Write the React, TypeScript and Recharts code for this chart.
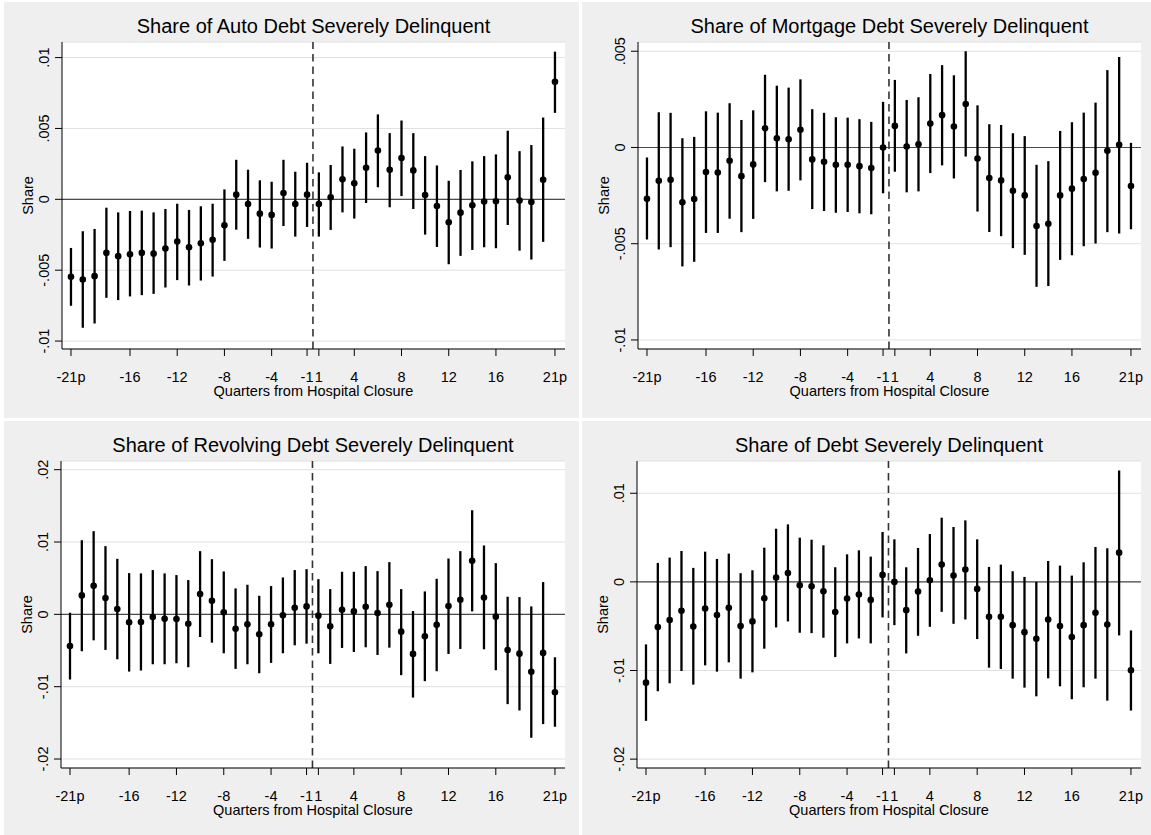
import React from 'react';
import {
  ComposedChart,
  Scatter,
  ErrorBar,
  XAxis,
  YAxis,
  CartesianGrid,
  ReferenceLine,
} from 'recharts';

// quarters relative to closure (no quarter 0)
const quarters = [
  -21, -20, -19, -18, -17, -16, -15, -14, -13, -12, -11, -10, -9, -8, -7, -6, -5, -4, -3, -2, -1,
  1, 2, 3, 4, 5, 6, 7, 8, 9, 10, 11, 12, 13, 14, 15, 16, 17, 18, 19, 20, 21,
];
const xTickQuarters = [-21, -16, -12, -8, -4, -1, 1, 4, 8, 12, 16, 21];
const xTickLabels = ['-21p', '-16', '-12', '-8', '-4', '-1', '1', '4', '8', '12', '16', '21p'];

// Auto debt
const autoEst = [
  -0.00547, -0.00566, -0.00542, -0.00378, -0.00401, -0.00387, -0.00378, -0.00383, -0.00347, -0.00298, -0.00338,
  -0.0031, -0.00286, -0.00183, 0.00033, -0.00033, -0.00101, -0.0011, 0.00045, -0.00033, 0.00033,
  -0.00033, 0.00014, 0.00141, 0.00113, 0.00223, 0.00345, 0.00209, 0.00291, 0.00204, 0.00031, -0.00047,
  -0.00162, -0.00094, -0.00042, -0.00016, -0.00014, 0.00155, -0.00009, -0.00019, 0.00138, 0.00829,
];
const autoHi = [
  -0.00343, -0.00225, -0.00209, -0.00059, -0.00092, -0.00082, -0.0008, -0.00092, -0.00068, -0.00031, -0.00075,
  -0.00049, -0.00031, 0.0007, 0.00279, 0.00209, 0.00134, 0.00124, 0.00279, 0.00195, 0.00258,
  0.0019, 0.00242, 0.00373, 0.00357, 0.00472, 0.00599, 0.00467, 0.00556, 0.00467, 0.00305, 0.00239,
  0.00131, 0.00207, 0.00268, 0.00305, 0.00317, 0.00484, 0.0034, 0.00383, 0.00577, 0.01042,
];
const autoLo = [
  -0.00751, -0.00906, -0.00876, -0.00695, -0.00711, -0.00685, -0.00676, -0.00667, -0.00622, -0.0057, -0.00608,
  -0.00573, -0.00545, -0.00434, -0.00214, -0.00279, -0.0034, -0.00347, -0.00188, -0.00263, -0.00195,
  -0.00263, -0.00216, -0.00092, -0.00136, -0.00026, 0.00085, -0.00056, 0.00023, -0.00068, -0.00249, -0.00336,
  -0.00458, -0.00399, -0.00357, -0.00338, -0.00345, -0.00181, -0.00362, -0.00425, -0.003, 0.0061,
];

// Mortgage debt
const mortEst = [
  -0.00266, -0.00173, -0.00168, -0.00285, -0.00268, -0.00128, -0.0013, -0.00069, -0.00149, -0.00088, 0.001,
  0.00048, 0.00043, 0.00092, -0.00062, -0.00074, -0.0009, -0.0009, -0.00097, -0.00107, 0,
  0.00112, 0.00005, 0.00017, 0.00124, 0.00168, 0.00109, 0.00226, -0.00057, -0.00159, -0.00171, -0.00225,
  -0.00249, -0.00408, -0.00396, -0.00249, -0.00214, -0.00164, -0.00131, -0.00017, 0.00014, -0.002,
];
const mortHi = [
  -0.00052, 0.00183, 0.0018, 0.00048, 0.00055, 0.00188, 0.00181, 0.0023, 0.00143, 0.00193, 0.00378,
  0.00321, 0.00311, 0.00354, 0.00199, 0.0018, 0.00157, 0.00155, 0.00147, 0.00133, 0.00237,
  0.00351, 0.00247, 0.00261, 0.00382, 0.00428, 0.00375, 0.005, 0.00219, 0.00121, 0.00117, 0.00074,
  0.00059, -0.0009, -0.00071, 0.00086, 0.00131, 0.00181, 0.00233, 0.00402, 0.0047, 0.00024,
];
const mortLo = [
  -0.00478, -0.0053, -0.00518, -0.00618, -0.00594, -0.00444, -0.00444, -0.0037, -0.0044, -0.00371, -0.0018,
  -0.00228, -0.00225, -0.00171, -0.0032, -0.0033, -0.00339, -0.00335, -0.00342, -0.00347, -0.00238,
  -0.00126, -0.00233, -0.00228, -0.00133, -0.00093, -0.00161, -0.00047, -0.00333, -0.00439, -0.00461, -0.00523,
  -0.00558, -0.00724, -0.0072, -0.00584, -0.0056, -0.00513, -0.00499, -0.0044, -0.00447, -0.00425,
];

// Revolving debt
const revEst = [
  -0.00437, 0.00262, 0.00395, 0.00225, 0.00074, -0.0011, -0.00106, -0.00037, -0.0006, -0.00064, -0.00129,
  0.0028, 0.00189, 0.00028, -0.00198, -0.00138, -0.00276, -0.00138, -0.00014, 0.00092, 0.0011,
  -0.00018, -0.00166, 0.00064, 0.00041, 0.00106, 0.00018, 0.00133, -0.00239, -0.00547, -0.00303, -0.00143,
  0.00115, 0.00202, 0.0074, 0.00234, -0.00032, -0.00492, -0.00543, -0.00795, -0.00533, -0.01076,
];
const revHi = [
  0.00023, 0.01025, 0.0115, 0.00943, 0.00768, 0.0057, 0.00566, 0.00612, 0.00566, 0.00543, 0.00474,
  0.00874, 0.00763, 0.00593, 0.00359, 0.00409, 0.00257, 0.00391, 0.0051, 0.00612, 0.00625,
  0.00487, 0.00349, 0.00589, 0.00589, 0.00667, 0.00598, 0.00722, 0.00349, 0.00046, 0.00317, 0.00492,
  0.00772, 0.00874, 0.01439, 0.00952, 0.00708, 0.00244, 0.00239, 0.0011, 0.00446, -0.00593,
];
const revLo = [
  -0.00901, -0.0051, -0.00359, -0.00492, -0.00621, -0.00791, -0.00777, -0.0069, -0.0069, -0.00676, -0.00731,
  -0.00313, -0.00391, -0.00538, -0.00754, -0.0069, -0.00814, -0.00671, -0.00538, -0.00428, -0.00405,
  -0.00538, -0.00685, -0.00464, -0.0052, -0.00455, -0.00561, -0.0046, -0.00841, -0.0115, -0.00924, -0.00786,
  -0.00547, -0.00478, 0.00041, -0.00483, -0.00772, -0.01241, -0.01329, -0.01706, -0.01517, -0.01554,
];

// All debt
const debtEst = [
  -0.01137, -0.0051, -0.00431, -0.00326, -0.00503, -0.003, -0.00375, -0.00293, -0.00499, -0.00446, -0.00184,
  0.00049, 0.00101, -0.00038, -0.00049, -0.00105, -0.00341, -0.00188, -0.00143, -0.00203, 0.00079,
  0, -0.00319, -0.00109, 0.00019, 0.00195, 0.00071, 0.00139, -0.00079, -0.00394, -0.00394, -0.00488,
  -0.00567, -0.00642, -0.00424, -0.00499, -0.00623, -0.00488, -0.00349, -0.0048, 0.0033, -0.00998,
];
const debtHi = [
  -0.00705, 0.00214, 0.00274, 0.00349, 0.00158, 0.00341, 0.00259, 0.00319, 0.00098, 0.00131, 0.00386,
  0.006, 0.00649, 0.00499, 0.00476, 0.00413, 0.00165, 0.00311, 0.00356, 0.00285, 0.00563,
  0.0048, 0.00165, 0.00383, 0.0054, 0.00724, 0.00619, 0.00694, 0.0048, 0.00169, 0.00195, 0.0012,
  0.00056, 0, 0.00236, 0.00184, 0.00071, 0.00221, 0.00394, 0.00379, 0.01257, -0.00548,
];
const debtLo = [
  -0.01568, -0.01234, -0.01144, -0.01006, -0.01159, -0.00942, -0.01013, -0.00908, -0.01092, -0.01021, -0.00754,
  -0.00514, -0.00446, -0.00574, -0.00578, -0.0063, -0.00848, -0.00694, -0.00638, -0.00694, -0.00401,
  -0.00488, -0.00807, -0.00608, -0.00507, -0.00338, -0.00473, -0.00424, -0.00645, -0.00968, -0.00983, -0.01092,
  -0.01193, -0.01291, -0.01088, -0.01178, -0.01324, -0.01189, -0.01092, -0.0134, -0.00604, -0.01452,
];

const FONT = '"Liberation Sans", Arial, Helvetica, sans-serif';

// evenly spaced slots, -1 and 1 next to each other
const slot = (q: number) => (q < 0 ? q + 21 : q + 20);
const xTicks = xTickQuarters.map(slot);

// stata style: drop the leading zero
const fmtY = (v: number) => {
  if (v === 0) return '0';
  const s = String(Math.abs(v)).replace(/^0/, '');
  return v < 0 ? '-' + s : s;
};

const YTick = (props: any) => {
  const { x, y, payload } = props;
  return (
    <text
      x={x}
      y={y}
      transform={`rotate(-90 ${x} ${y})`}
      textAnchor="middle"
      fontSize={14.5}
      fontFamily={FONT}
      fill="#000"
    >
      {fmtY(payload.value)}
    </text>
  );
};

const Dot = (props: any) => {
  const { cx, cy } = props;
  if (cx == null || cy == null) return null;
  return <circle cx={cx} cy={cy} r={3.3} fill="#000" />;
};

interface PanelProps {
  title: string;
  est: number[];
  lo: number[];
  hi: number[];
  yDomain: [number, number];
  yTicks: number[];
  left: number;
  top: number;
  width: number;
  height: number;
  axisW: number;
  right: number;
}

const Panel: React.FC<PanelProps> = ({ title, est, lo, hi, yDomain, yTicks, left, top, width, height, axisW, right }) => {
  const data = quarters.map((q, i) => ({
    x: slot(q),
    est: est[i],
    err: [est[i] - lo[i], hi[i] - est[i]],
  }));
  const plotTop = 40;
  const plotBottom = 347;
  const cx = (axisW + width - right) / 2;
  const midY = (plotTop + plotBottom) / 2;

  return (
    <div style={{ position: 'absolute', left, top, width, height, background: '#efefef' }}>
      <ComposedChart
        width={width}
        height={height}
        data={data}
        margin={{ top: plotTop, right, bottom: 0, left: 0 }}
        style={{ fontFamily: FONT }}
      >
        <CartesianGrid horizontal vertical={false} fill="#fff" stroke="#e0e0e0" strokeWidth={1} />
        <XAxis
          type="number"
          dataKey="x"
          domain={[-0.76, 41.85]}
          ticks={xTicks}
          interval={0}
          tickFormatter={(v: number) => xTickLabels[xTicks.indexOf(v)]}
          height={height - plotBottom}
          tickSize={7}
          tickMargin={16}
          stroke="#000"
          tick={{ fill: '#000', fontSize: 14.5, fontFamily: FONT }}
          allowDataOverflow
        />
        <YAxis
          type="number"
          domain={yDomain}
          ticks={yTicks}
          interval={0}
          allowDataOverflow
          width={axisW}
          tickSize={7}
          tickMargin={6}
          stroke="#000"
          tick={<YTick />}
        />
        <ReferenceLine y={0} stroke="#4a4a4a" strokeWidth={1.2} />
        <ReferenceLine x={20.5} stroke="#333" strokeWidth={1.6} strokeDasharray="7.5 5" />
        <Scatter dataKey="est" isAnimationActive={false} shape={<Dot />}>
          <ErrorBar dataKey="err" direction="y" width={0} stroke="#000" strokeWidth={2.3} isAnimationActive={false} />
        </Scatter>
      </ComposedChart>
      <svg
        width={width}
        height={height}
        style={{ position: 'absolute', left: 0, top: 0, pointerEvents: 'none' }}
        fontFamily={FONT}
      >
        <text x={cx} y={31} textAnchor="middle" fontSize={20} fill="#000">
          {title}
        </text>
        <text x={cx} y={394} textAnchor="middle" fontSize={14.5} fill="#000">
          Quarters from Hospital Closure
        </text>
        <text
          x={axisW - 29}
          y={midY}
          transform={`rotate(-90 ${axisW - 29} ${midY})`}
          textAnchor="middle"
          fontSize={14.5}
          fill="#000"
        >
          Share
        </text>
      </svg>
    </div>
  );
};

export default function App() {
  return (
    <div style={{ position: 'absolute', left: 0, top: 0, width: 1151, height: 835, background: '#fff' }}>
      <Panel
        title="Share of Auto Debt Severely Delinquent"
        est={autoEst}
        lo={autoLo}
        hi={autoHi}
        yDomain={[-0.01056, 0.0111]}
        yTicks={[-0.01, -0.005, 0, 0.005, 0.01]}
        left={4}
        top={2}
        width={575}
        height={416}
        axisW={58}
        right={14}
      />
      <Panel
        title="Share of Mortgage Debt Severely Delinquent"
        est={mortEst}
        lo={mortLo}
        hi={mortHi}
        yDomain={[-0.01047, 0.00548]}
        yTicks={[-0.01, -0.005, 0, 0.005]}
        left={582}
        top={2}
        width={569}
        height={416}
        axisW={56}
        right={10}
      />
      <Panel
        title="Share of Revolving Debt Severely Delinquent"
        est={revEst}
        lo={revLo}
        hi={revHi}
        yDomain={[-0.02124, 0.0212]}
        yTicks={[-0.02, -0.01, 0, 0.01, 0.02]}
        left={4}
        top={421}
        width={575}
        height={414}
        axisW={57}
        right={14}
      />
      <Panel
        title="Share of Debt Severely Delinquent"
        est={debtEst}
        lo={debtLo}
        hi={debtHi}
        yDomain={[-0.021, 0.01364]}
        yTicks={[-0.02, -0.01, 0, 0.01]}
        left={582}
        top={421}
        width={569}
        height={414}
        axisW={55}
        right={10}
      />
    </div>
  );
}
